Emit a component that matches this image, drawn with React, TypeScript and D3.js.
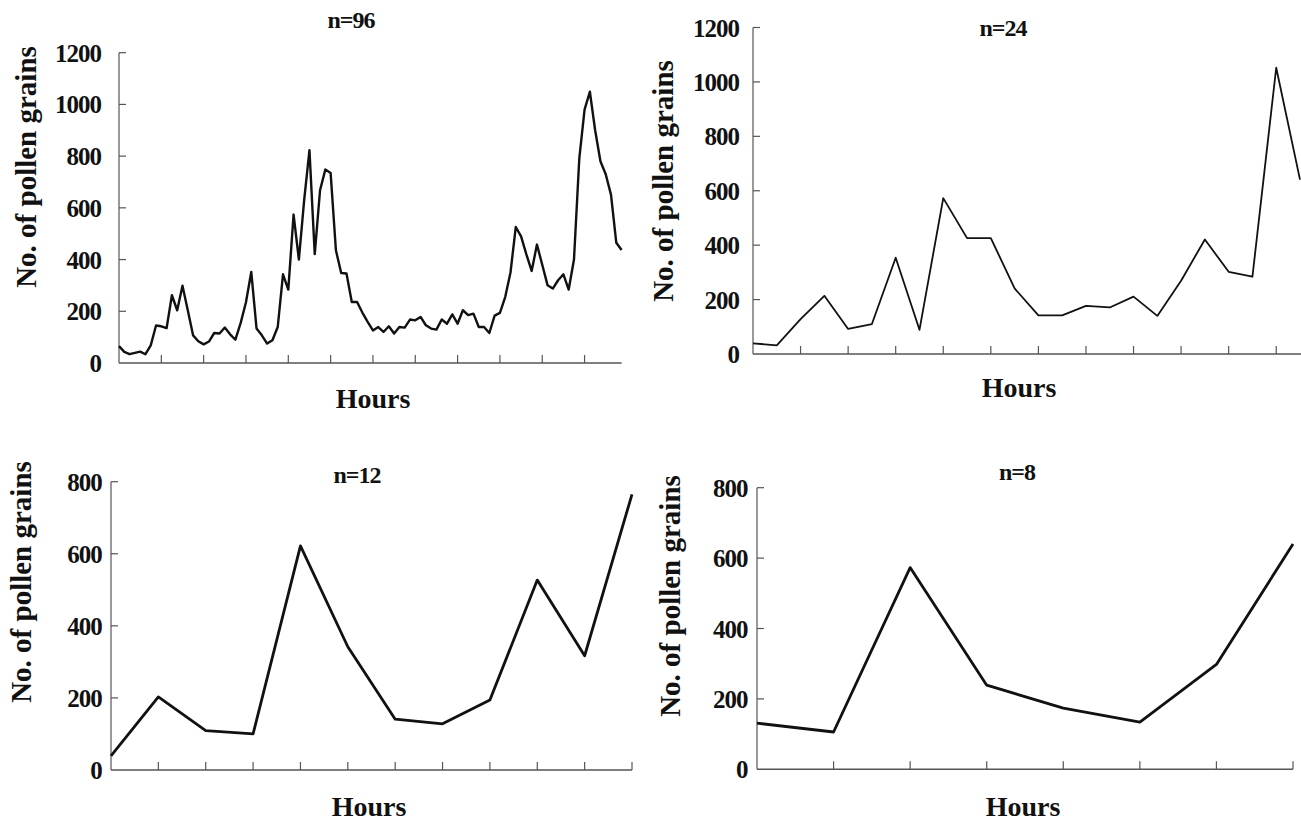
import React from 'react';
import * as d3 from 'd3';

// ---- data ----
const pollen96 = [
  65, 43, 34, 39, 44, 34, 68, 145, 142, 135, 262, 204, 299, 204, 107, 84,
  72, 83, 116, 114, 137, 111, 90, 155, 235, 352, 133, 107, 75, 88, 139, 343,
  284, 574, 400, 630, 823, 421, 668, 748, 735, 436, 348, 346, 236, 236, 195, 159,
  126, 139, 120, 142, 114, 139, 137, 168, 165, 178, 146, 133, 129, 168, 152, 188,
  152, 204, 185, 191, 139, 139, 116, 183, 194, 255, 350, 526, 490, 420, 356, 458,
  380, 301, 288, 320, 343, 284, 400, 790, 980, 1049, 900, 780, 730, 650, 465, 437,
];
const pollen24 = [
  39, 32, 128, 214, 92, 110, 354, 89, 573, 426, 426, 241,
  142, 142, 177, 171, 211, 140, 269, 421, 302, 284, 1052, 641,
];
const pollen12 = [39, 203, 109, 100, 622, 342, 141, 128, 194, 527, 317, 765];
const pollen8 = [131, 106, 573, 239, 174, 134, 298, 640];

const ticks1200 = [0, 200, 400, 600, 800, 1000, 1200];
const ticks800 = [0, 200, 400, 600, 800];
const titles = ['n=96', 'n=24', 'n=12', 'n=8'];
const xLabel = 'Hours';
const yLabel = 'No. of pollen grains';

const FONT = '"Liberation Serif", "Times New Roman", serif';

type Panel = {
  data: number[];
  title: string;
  yTicks: number[];
  x0: number; x1: number; axisEnd: number;
  y0: number; y1: number;
  tickEvery: number;
  lw: number;
  titleX: number; titleY: number;
  hoursX: number; hoursY: number;
  ylabX: number; ylabY: number;
  labelRight: number;
};

const panels: Panel[] = [
  {
    data: pollen96, title: titles[0], yTicks: ticks1200,
    x0: 119, x1: 621.6, axisEnd: 621.6, y0: 363, y1: 52.7, tickEvery: 8, lw: 2.4,
    titleX: 351, titleY: 28, hoursX: 373, hoursY: 408, ylabX: 36, ylabY: 167, labelRight: 101,
  },
  {
    data: pollen24, title: titles[1], yTicks: ticks1200,
    x0: 753, x1: 1300, axisEnd: 1301, y0: 354, y1: 27.5, tickEvery: 2, lw: 1.8,
    titleX: 1003, titleY: 36, hoursX: 1019, hoursY: 397, ylabX: 673, ylabY: 181, labelRight: 739,
  },
  {
    data: pollen12, title: titles[2], yTicks: ticks800,
    x0: 111, x1: 632, axisEnd: 632, y0: 770, y1: 481.7, tickEvery: 1, lw: 2.8,
    titleX: 357, titleY: 483, hoursX: 369, hoursY: 816, ylabX: 31, ylabY: 582, labelRight: 101.7,
  },
  {
    data: pollen8, title: titles[3], yTicks: ticks800,
    x0: 757, x1: 1293, axisEnd: 1293, y0: 769.3, y1: 487.7, tickEvery: 1, lw: 2.8,
    titleX: 1017, titleY: 480, hoursX: 1023, hoursY: 816, ylabX: 680, ylabY: 596, labelRight: 747.5,
  },
];

function ChartPanel({ p }: { p: Panel }) {
  const n = p.data.length;
  const x = d3.scaleLinear().domain([0, n - 1]).range([p.x0, p.x1]);
  const yMax = p.yTicks[p.yTicks.length - 1];
  const y = d3.scaleLinear().domain([0, yMax]).range([p.y0, p.y1]);
  const line = d3.line<number>().x((_, i) => x(i)).y((d) => y(d));
  const xTickIdx = d3.range(p.tickEvery, n, p.tickEvery);
  const axisColor = '#555';
  return (
    <g>
      {/* axes */}
      <line x1={p.x0} x2={p.x0} y1={y(0)} y2={y(yMax)} stroke={axisColor} strokeWidth={1.2} />
      <line x1={p.x0} x2={p.axisEnd} y1={y(0)} y2={y(0)} stroke={axisColor} strokeWidth={1.4} />
      {p.yTicks.map((t) => (
        <g key={'yt' + t}>
          {t > 0 && (
            <line x1={p.x0} x2={p.x0 + 7} y1={y(t)} y2={y(t)} stroke={axisColor} strokeWidth={1.2} />
          )}
          <text
            x={p.labelRight}
            y={y(t)}
            dy="0.36em"
            textAnchor="end"
            fontFamily={FONT}
            fontWeight="bold"
            fontSize={25}
            letterSpacing={-1}
            fill="#111"
          >
            {t}
          </text>
        </g>
      ))}
      {xTickIdx.map((i) => (
        <line key={'xt' + i} x1={x(i)} x2={x(i)} y1={y(0)} y2={y(0) - 8} stroke={axisColor} strokeWidth={1.2} />
      ))}
      {/* series */}
      <path d={line(p.data) || ''} fill="none" stroke="#111" strokeWidth={p.lw} strokeLinejoin="round" />
      {/* texts */}
      <text x={p.titleX} y={p.titleY} textAnchor="middle" fontFamily={FONT} fontWeight="bold" fontSize={24} letterSpacing={-1} fill="#111">
        {p.title}
      </text>
      <text x={p.hoursX} y={p.hoursY} textAnchor="middle" fontFamily={FONT} fontWeight="bold" fontSize={28} fill="#111">
        {xLabel}
      </text>
      <text
        transform={`translate(${p.ylabX},${p.ylabY}) rotate(-90)`}
        textAnchor="middle"
        fontFamily={FONT}
        fontWeight="bold"
        fontSize={29}
        fill="#111"
      >
        {yLabel}
      </text>
    </g>
  );
}

export default function App() {
  return (
    <svg
      width={1301}
      height={824}
      viewBox="0 0 1301 824"
      style={{ position: 'absolute', left: 0, top: 0, background: '#fff' }}
    >
      <rect x={0} y={0} width={1301} height={824} fill="#fff" />
      {panels.map((p, k) => (
        <ChartPanel key={k} p={p} />
      ))}
    </svg>
  );
}
